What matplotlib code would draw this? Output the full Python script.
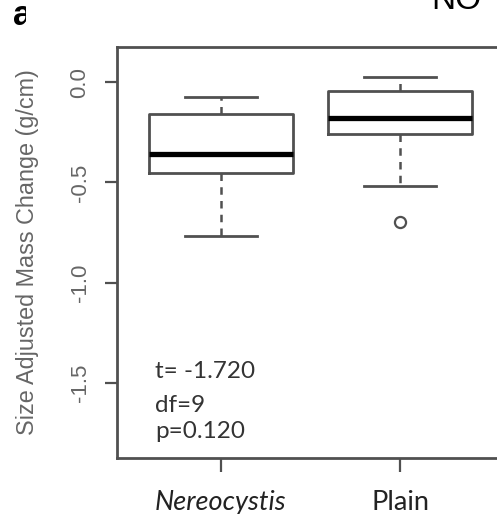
import matplotlib.pyplot as plt
from matplotlib.patches import Rectangle

groups = ["Nereocystis", "Plain"]
whislo = [-0.77, -0.52]
q1 = [-0.453, -0.258]
med = [-0.359, -0.180]
q3 = [-0.157, -0.045]
whishi = [-0.073, 0.028]
fliers = [[], [-0.698]]
stats_lines = ["t= -1.720", "df=9", "p=0.120"]

fig = plt.figure(figsize=(4.97, 5.14), dpi=100)
ax = fig.add_axes([117 / 497, 1 - 458 / 514, (504 - 117) / 497, (458 - 47) / 514])

gray = "#505050"
stats = []
for i in range(len(groups)):
    stats.append(dict(whislo=whislo[i], q1=q1[i], med=med[i], q3=q3[i],
                      whishi=whishi[i], fliers=fliers[i]))

ax.bxp(stats, positions=[1, 2], widths=0.8,
       boxprops=dict(color=gray, lw=2),
       medianprops=dict(color="black", lw=3.8),
       whiskerprops=dict(color=gray, lw=1.8, ls=(0, (3, 2.5))),
       capprops=dict(color=gray, lw=2),
       capwidths=0.4,
       flierprops=dict(marker="o", markerfacecolor="none", markeredgecolor=gray,
                       markersize=8, markeredgewidth=1.6))

ax.set_xlim(0.42, 2.58)
ax.set_ylim(-1.876, 0.176)
ax.set_yticks([0.0, -0.5, -1.0, -1.5])
ax.set_yticklabels(["0.0", "-0.5", "-1.0", "-1.5"], rotation=90, va="center",
                   color="#666666", fontsize=16, family="Liberation Sans")
ax.set_xticks([1, 2])
ax.set_xticklabels(groups, fontsize=19.5, family="Lato", color="#222222")
ax.get_xticklabels()[0].set_style("italic")
ax.tick_params(axis="y", length=9, width=1.6, color=gray, pad=10)
ax.tick_params(axis="x", length=10, width=1.6, color=gray, pad=13)
for s in ax.spines.values():
    s.set_color(gray)
    s.set_linewidth(2)

ax.set_ylabel("Size Adjusted Mass Change (g/cm)", fontsize=16.8, color="#666666",
              family="Liberation Sans", labelpad=22)

ys = [372, 405, 432]
for txt, y in zip(stats_lines, ys):
    fig.text(155 / 497, 1 - y / 514, txt, ha="left", va="center", fontsize=17.5,
             family="Lato", color="#333333")

fig.text(13 / 497, 1 - 25 / 514, "a", fontsize=25, fontweight="bold",
         family="Liberation Sans", ha="left", va="baseline")
fig.patches.append(Rectangle((26 / 497, 0.9), 0.05, 0.1, transform=fig.transFigure,
                             facecolor="white", edgecolor="none", zorder=10))
fig.text(431 / 497, 1 - 9 / 514, "NO", fontsize=24, family="Liberation Sans",
         ha="left", va="baseline")

fig.savefig("out.png", dpi=100)
